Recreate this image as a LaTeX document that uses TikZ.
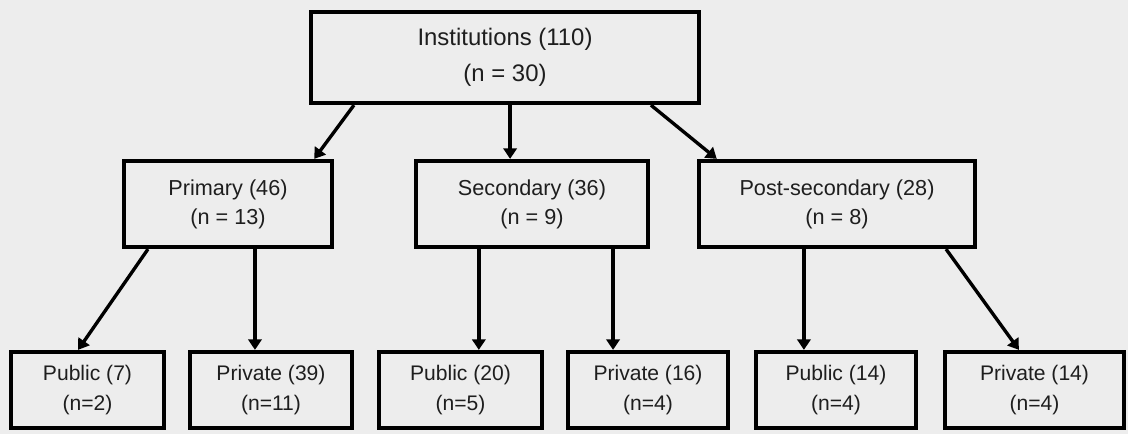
\documentclass[tikz,border=0pt]{standalone}
\usepackage{fontspec}
\setmainfont{Liberation Sans}
\usetikzlibrary{arrows.meta,calc}
\definecolor{scan}{RGB}{237,237,237}
\definecolor{ink}{RGB}{30,30,30}
\tikzset{
  box/.style={draw=black,line width=3pt,text=ink,align=center,inner sep=0pt},
  topbox/.style={box,minimum width=9.7cm,minimum height=2.275cm,font=\fontsize{17}{25.6}\selectfont},
  midbox/.style={box,minimum height=2.15cm,font=\fontsize{15.4}{20.6}\selectfont},
  leafbox/.style={box,minimum height=1.9cm,font=\fontsize{15}{21.3}\selectfont},
  link/.style={-{Triangle[width=9.5pt,length=7.5pt]},line width=2.4pt}
}
\begin{document}
\begin{tikzpicture}
\begin{scope}[x=0.025cm,y=-0.025cm]
\fill[scan] (0,0) rectangle (1128,434);
\node[topbox] (inst) at (505,57.5) {Institutions (110)\\(n = 30)};
\node[midbox,minimum width=5.2cm] (prim) at (228,204) {Primary (46)\\(n = 13)};
\node[midbox,minimum width=5.8cm] (sec) at (532,204) {Secondary (36)\\(n = 9)};
\node[midbox,minimum width=6.9cm] (post) at (837,204) {Post-secondary (28)\\(n = 8)};
\node[leafbox,minimum width=3.825cm] (pubprim) at (87.5,390) {Public (7)\\(n=2)};
\node[leafbox,minimum width=4.05cm] (privprim) at (271,390) {Private (39)\\(n=11)};
\node[leafbox,minimum width=4.075cm] (pubsec) at (460.5,390) {Public (20)\\(n=5)};
\node[leafbox,minimum width=4cm] (privsec) at (648,390) {Private (16)\\(n=4)};
\node[leafbox,minimum width=4cm] (pubpost) at (836,390) {Public (14)\\(n=4)};
\node[leafbox,minimum width=4.475cm] (privpost) at (1034.5,390) {Private (14)\\(n=4)};
\draw[link] ($(inst.south west)!.115!(inst.south east)$) -- ($(prim.north west)!.906!(prim.north east)$);
\draw[link] ($(inst.south west)!.513!(inst.south east)$) coordinate (a) -- (a |- sec.north);
\draw[link] ($(inst.south west)!.872!(inst.south east)$) -- ($(post.north west)!.071!(post.north east)$);
\draw[link] ($(prim.south west)!.123!(prim.south east)$) -- ($(pubprim.north west)!.44!(pubprim.north east)$);
\draw[link] ($(prim.south west)!.627!(prim.south east)$) coordinate (b) -- (b |- privprim.north);
\draw[link] ($(sec.south west)!.275!(sec.south east)$) coordinate (c) -- (c |- pubsec.north);
\draw[link] ($(sec.south west)!.843!(sec.south east)$) coordinate (d) -- (d |- privsec.north);
\draw[link] ($(post.south west)!.382!(post.south east)$) coordinate (e) -- (e |- pubpost.north);
\draw[link] ($(post.south west)!.889!(post.south east)$) -- ($(privpost.north west)!.415!(privpost.north east)$);
\end{scope}
\end{tikzpicture}
\end{document}
